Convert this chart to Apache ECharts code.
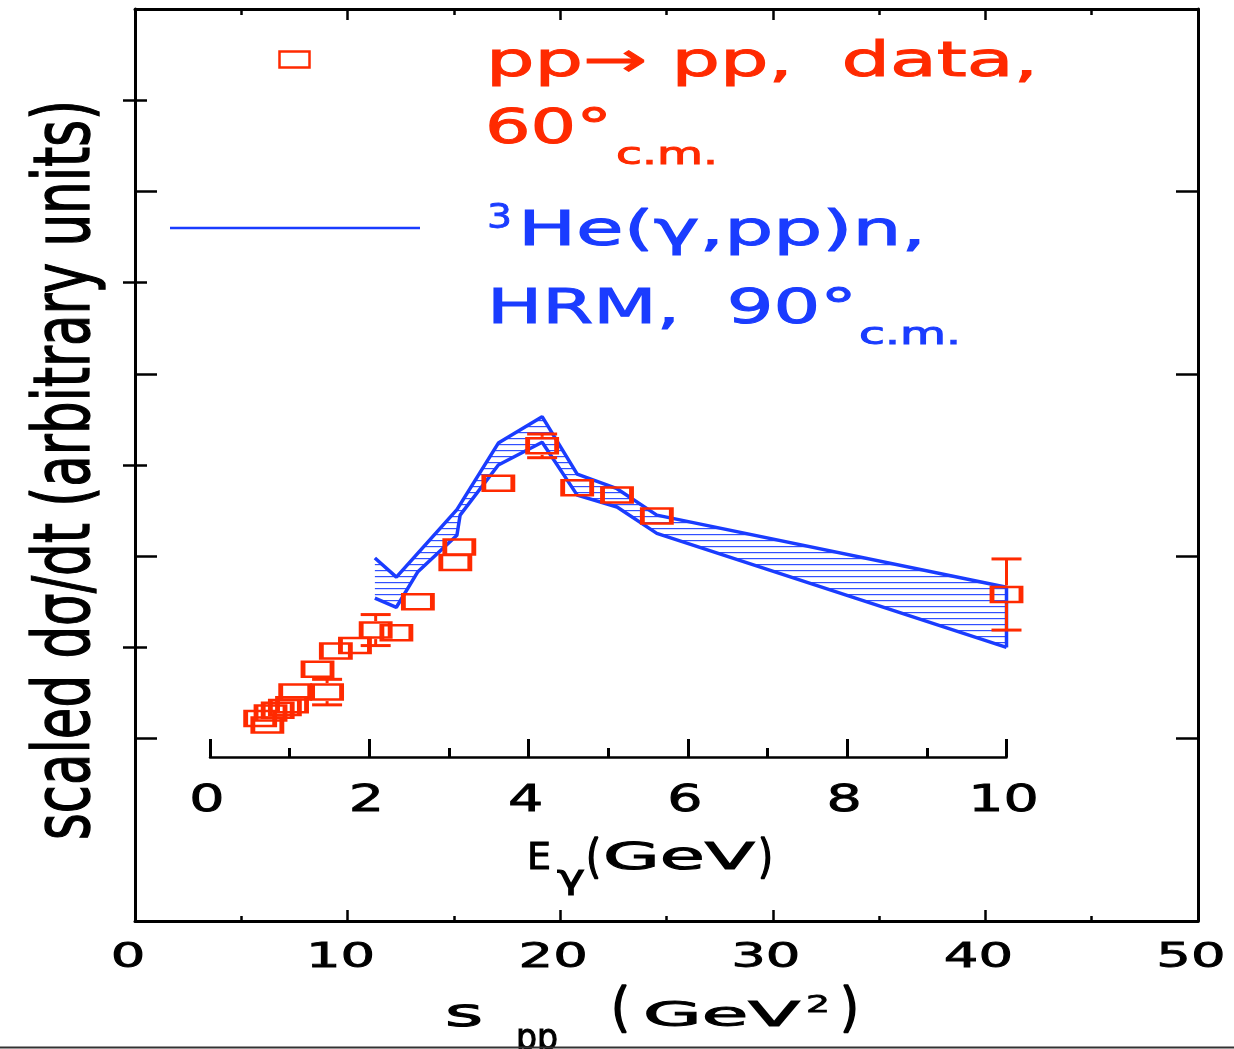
<!DOCTYPE html>
<html><head><meta charset="utf-8">
<script src="https://cdn.jsdelivr.net/npm/echarts@6/dist/echarts.min.js"></script>
<style>html,body{margin:0;padding:0;background:#fff}#c{width:1234px;height:1049px}</style>
</head><body><div id="c"></div>
<script>
// ---- data ----
const sppTicks = [0, 10, 20, 30, 40, 50];
const egTicks = [0, 2, 4, 6, 8, 10];
// pp -> pp data, 60 deg c.m. (E_gamma equivalent, scaled dsigma/dt)
const ppE   = [0.63, 0.72, 0.76, 0.85, 0.94, 1.03, 1.07, 1.47, 1.35, 1.58, 1.82, 2.08, 2.34, 2.61, 3.08, 3.13, 3.62, 4.17, 4.61, 5.11, 5.61, 10.0];
const ppY   = [2.22, 2.15, 2.28, 2.31, 2.34, 2.37, 2.51, 2.51, 2.76, 2.96, 3.02, 3.19, 3.16, 3.50, 3.93, 4.10, 4.80, 5.21, 4.75, 4.67, 4.44, 3.58];
const ppErr = [0, 0, 0, 0, 0, 0, 0, 0.14, 0, 0, 0, 0.17, 0, 0, 0, 0, 0, 0.13, 0, 0, 0, 0.39];
// 3He(gamma,pp)n HRM band, 90 deg c.m.
const hrmUpperE = [2.07, 2.34, 3.10, 3.62, 4.17, 4.61, 5.11, 5.61, 10.0];
const hrmUpperY = [3.98, 3.77, 4.51, 5.24, 5.53, 4.90, 4.74, 4.45, 3.66];
const hrmLowerE = [2.07, 2.34, 2.61, 3.10, 3.14, 3.62, 4.17, 4.61, 5.11, 5.61, 10.0];
const hrmLowerY = [3.54, 3.44, 3.83, 4.23, 4.45, 5.00, 5.25, 4.67, 4.54, 4.25, 3.00];

// ---- styling ----
const RED = '#ff2a00';
const BLUE = '#1a3cff';
const FONT = 'DejaVu Sans';

const pc = document.createElement('canvas');
pc.width = 8; pc.height = 6;
const pctx = pc.getContext('2d');
pctx.fillStyle = 'rgba(26,60,255,0.9)';
pctx.fillRect(0, 0, 8, 1.2);

const mctx = document.createElement('canvas').getContext('2d');
function txt(str, x, baseline, size, color, opts) {
  opts = opts || {};
  mctx.font = size + 'px "' + FONT + '"';
  const w = mctx.measureText(str).width;
  const s = opts.scale != null ? opts.scale : (opts.width ? opts.width / w : 1);
  const rot = opts.rot || 0;
  const off = 0.3 * size;
  let px = x, py = baseline - off;
  if (rot) { px = baseline - off; py = x; }
  return {
    type: 'text', x: px, y: py, rotation: rot, scaleX: s, silent: true, z: 50,
    style: {
      text: str, fill: color, fontSize: size, fontFamily: FONT,
      stroke: color, lineWidth: opts.bold != null ? opts.bold : 1.0,
      align: opts.align || 'left', textAlign: opts.align || 'left',
      verticalAlign: 'middle', textVerticalAlign: 'middle'
    }
  };
}

const zip = (a, b) => a.map((v, i) => [v, b[i]]);

const axisLine = w => ({ show: true, onZero: false, lineStyle: { color: '#000', width: w } });

const option = {
  animation: false,
  backgroundColor: '#fff',
  grid: [
    { left: 135, right: 36, top: 9, bottom: 128, outerBoundsMode: 'none', containLabel: false },
    { left: 210, right: 227.5, top: 9, bottom: 128, outerBoundsMode: 'none', containLabel: false }
  ],
  xAxis: [
    { gridIndex: 0, type: 'value', position: 'bottom', min: 0, max: 50, interval: 10,
      axisLine: axisLine(3),
      axisTick: { show: true, inside: true, length: 11, lineStyle: { color: '#000', width: 2.5 } },
      minorTick: { show: true, splitNumber: 2, length: 5, lineStyle: { color: '#000', width: 2.5 } },
      axisLabel: { show: false }, splitLine: { show: false }, minorSplitLine: { show: false } },
    { gridIndex: 0, type: 'value', position: 'top', min: 0, max: 50, interval: 10,
      axisLine: axisLine(3),
      axisTick: { show: true, inside: true, length: 11, lineStyle: { color: '#000', width: 2.5 } },
      minorTick: { show: true, splitNumber: 2, length: 6, lineStyle: { color: '#000', width: 2.5 } },
      axisLabel: { show: false }, splitLine: { show: false }, minorSplitLine: { show: false } },
    { gridIndex: 1, type: 'value', position: 'bottom', offset: -164, min: 0, max: 10, interval: 2,
      axisLine: axisLine(2.5),
      axisTick: { show: true, inside: true, length: 18, lineStyle: { color: '#000', width: 3 } },
      minorTick: { show: true, splitNumber: 2, length: 9, lineStyle: { color: '#000', width: 3 } },
      axisLabel: { show: false }, splitLine: { show: false }, minorSplitLine: { show: false } }
  ],
  yAxis: [
    { gridIndex: 0, type: 'value', position: 'left', min: 0, max: 10, interval: 1,
      axisLine: axisLine(3),
      axisTick: { show: true, inside: true, length: 22, customValues: [2, 4, 6, 8], lineStyle: { color: '#000', width: 2.5 } },
      axisLabel: { show: false }, splitLine: { show: false } },
    { gridIndex: 0, type: 'value', position: 'left', min: 0, max: 10, interval: 1,
      axisLine: { show: false },
      axisTick: { show: true, inside: true, length: 12, customValues: [3, 5, 7, 9], lineStyle: { color: '#000', width: 2.5 } },
      axisLabel: { show: false }, splitLine: { show: false } },
    { gridIndex: 0, type: 'value', position: 'right', min: 0, max: 10, interval: 1,
      axisLine: axisLine(3),
      axisTick: { show: true, inside: true, length: 22, customValues: [2, 4, 6, 8], lineStyle: { color: '#000', width: 2.5 } },
      axisLabel: { show: false }, splitLine: { show: false } },
    { gridIndex: 0, type: 'value', position: 'right', min: 0, max: 10, interval: 1,
      axisLine: { show: false },
      axisTick: { show: true, inside: true, length: 12, customValues: [3, 5, 7, 9], lineStyle: { color: '#000', width: 2.5 } },
      axisLabel: { show: false }, splitLine: { show: false } },
    { gridIndex: 1, type: 'value', min: 0, max: 10, show: false }
  ],
  series: [
    { type: 'custom', name: 'HRM band', xAxisIndex: 2, yAxisIndex: 4, z: 1, clip: false,
      data: [[hrmUpperE[0], hrmUpperY[0]]],
      renderItem: function (params, api) {
        const pts = [];
        for (let i = 0; i < hrmUpperE.length; i++) pts.push(api.coord([hrmUpperE[i], hrmUpperY[i]]));
        for (let i = hrmLowerE.length - 1; i >= 0; i--) pts.push(api.coord([hrmLowerE[i], hrmLowerY[i]]));
        return { type: 'polygon', shape: { points: pts }, style: { fill: { image: pc, repeat: 'repeat' }, stroke: null } };
      } },
    { type: 'line', name: 'HRM upper', xAxisIndex: 2, yAxisIndex: 4, z: 2, clip: false, symbol: 'none',
      data: zip(hrmUpperE, hrmUpperY), lineStyle: { color: BLUE, width: 3.5 } },
    { type: 'line', name: 'HRM lower', xAxisIndex: 2, yAxisIndex: 4, z: 2, clip: false, symbol: 'none',
      data: zip(hrmLowerE, hrmLowerY), lineStyle: { color: BLUE, width: 3.5 } },
    { type: 'line', name: 'HRM edge', xAxisIndex: 2, yAxisIndex: 4, z: 2, clip: false, symbol: 'none',
      data: [[hrmUpperE[hrmUpperE.length - 1], hrmUpperY[hrmUpperY.length - 1]],
             [hrmLowerE[hrmLowerE.length - 1], hrmLowerY[hrmLowerY.length - 1]]],
      lineStyle: { color: BLUE, width: 3.5 } },
    { type: 'custom', name: 'pp errors', xAxisIndex: 2, yAxisIndex: 4, z: 3, clip: false,
      data: ppE.map((e, i) => [e, ppY[i], ppErr[i]]).filter(d => d[2] > 0),
      renderItem: function (params, api) {
        const x = api.value(0), y = api.value(1), e = api.value(2);
        const c = api.coord([x, y]), t = api.coord([x, y + e]), b = api.coord([x, y - e]);
        const hw = 15, hb = 9;
        const st = { stroke: RED, lineWidth: 3 };
        const segs = [[c[0] - hw, t[1], c[0] + hw, t[1]], [c[0] - hw, b[1], c[0] + hw, b[1]]];
        if (c[1] - hb > t[1]) segs.push([c[0], t[1], c[0], c[1] - hb]);
        if (b[1] > c[1] + hb) segs.push([c[0], c[1] + hb, c[0], b[1]]);
        return { type: 'group', children: segs.map(s => ({ type: 'line', shape: { x1: s[0], y1: s[1], x2: s[2], y2: s[3] }, style: st })) };
      } },
    { type: 'scatter', name: 'pp→pp data', xAxisIndex: 2, yAxisIndex: 4, z: 4, clip: false,
      symbol: 'rect', symbolSize: [29, 15],
      data: zip(ppE, ppY),
      itemStyle: { color: 'rgba(255,255,255,0)', borderColor: RED, borderWidth: 3.5, opacity: 1 } }
  ]
};

const chart = echarts.init(document.getElementById('c'), null, { renderer: 'canvas' });
chart.setOption(option);

const g = [];
sppTicks.forEach(v => {
  const px = chart.convertToPixel({ xAxisIndex: 0 }, v);
  g.push(txt(String(v), px - 7, 968, 33, '#000', { align: 'center', scale: 1.65, bold: 0.8 }));
});
egTicks.forEach(v => {
  const px = chart.convertToPixel({ xAxisIndex: 2 }, v);
  g.push(txt(String(v), px - 3, 812, 37, '#000', { align: 'center', scale: 1.5, bold: 0.8 }));
});
// axis titles
g.push(txt('E', 527, 870, 37, '#000', { width: 24 }));
g.push(txt('γ', 557, 889, 32, '#000', { width: 28 }));
g.push(txt('(', 586, 874, 47, '#000', { width: 15, bold: 1.5 }));
g.push(txt('GeV', 603, 870, 37, '#000', { width: 152 }));
g.push(txt(')', 758, 874, 47, '#000', { width: 15, bold: 1.5 }));
g.push(txt('s', 445, 1027, 37, '#000', { width: 38 }));
g.push(txt('pp', 516, 1050, 36, '#000', { width: 42 }));
g.push(txt('(', 611, 1028, 54, '#000', { width: 19, bold: 1.6 }));
g.push(txt('GeV', 643, 1027, 34, '#000', { width: 157 }));
g.push(txt('2', 806, 1013, 23, '#000', { width: 24, bold: 0.8 }));
g.push(txt(')', 840, 1028, 54, '#000', { width: 19, bold: 1.6 }));
g.push(txt('scaled dσ/dt (arbitrary units)', 470, 92, 78, '#000', { align: 'center', width: 740, rot: Math.PI / 2, bold: 1.4 }));
// legend
g.push({ type: 'rect', silent: true, z: 50, shape: { x: 279.5, y: 51.5, width: 30, height: 16 }, style: { fill: 'none', stroke: RED, lineWidth: 2.5 } });
g.push({ type: 'line', silent: true, z: 50, shape: { x1: 170, y1: 228, x2: 420, y2: 228 }, style: { stroke: BLUE, lineWidth: 2.5 } });
g.push(txt('pp→ pp,  data,', 486, 78, 48, RED, { width: 552 }));
g.push(txt('60°', 485, 145, 48, RED, { width: 127 }));
g.push(txt('c.m.', 616, 165, 31, RED, { width: 102 }));
g.push(txt('3', 487, 229, 33, BLUE, { width: 25, bold: 0.8 }));
g.push(txt('He(γ,pp)n,', 518, 247, 48, BLUE, { width: 408 }));
g.push(txt('HRM,  90°', 487, 325, 48, BLUE, { width: 370 }));
g.push(txt('c.m.', 859, 345, 31, BLUE, { width: 102 }));
// bottom border line of the figure
g.push({ type: 'line', silent: true, z: 50, shape: { x1: 0, y1: 1047.5, x2: 1234, y2: 1047.5 }, style: { stroke: '#333', lineWidth: 2 } });

chart.setOption({ graphic: g });
</script>
</body></html>
